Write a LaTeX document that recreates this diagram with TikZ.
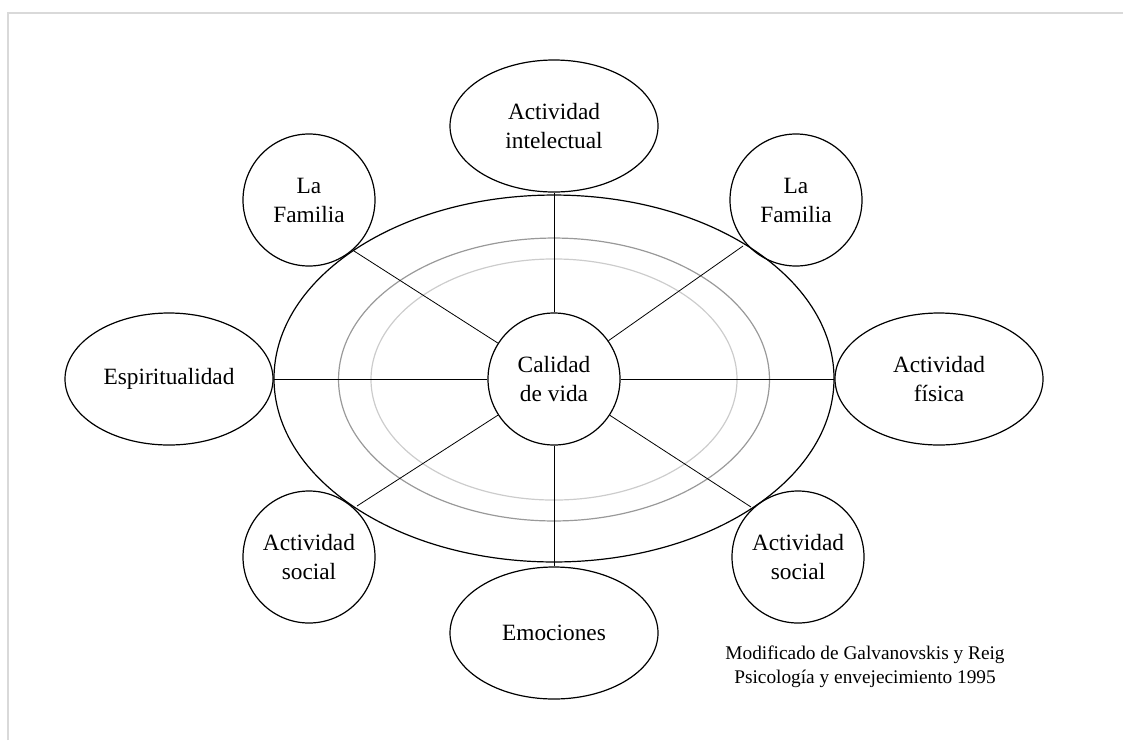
\documentclass[tikz,border=0pt]{standalone}
\usepackage{fontspec}
\setmainfont{Liberation Serif}
\usetikzlibrary{shapes.geometric}
\begin{document}
\begin{tikzpicture}[x=0.75pt,y=-0.75pt,
  lbl/.style={font=\fontsize{17.5}{21.75}\selectfont, align=center, inner sep=0pt},
  circ/.style={lbl, circle, draw, line width=0.9pt, minimum size=99pt},
  ell/.style={lbl, ellipse, draw, line width=0.9pt, minimum width=156pt, minimum height=99pt},
  spoke/.style={line width=0.6pt},
  ring/.style={line width=0.9pt}]
\useasboundingbox (0,0) rectangle (1123,740);
\draw[black!15, line width=1pt] (8,740) -- (8,13) -- (1123,13);
% rings
\draw[ring] (554,378.5) ellipse [x radius=210pt, y radius=137.6pt];
\draw[ring, black!40] (554,379.5) ellipse [x radius=161.6pt, y radius=106.1pt];
\draw[ring, black!20] (554,379.5) ellipse [x radius=137.25pt, y radius=90.4pt];
% nodes
\node[circ, fill=white] (c) at (554,379) {Calidad\\de vida};
\node[ell] (int) at (554,126) {Actividad\\intelectual};
\node[circ] (fam1) at (309,200) {La\\Familia};
\node[circ] (fam2) at (796,200) {La\\Familia};
\node[ell] (esp) at (169,379) {Espiritualidad};
\node[ell] (fis) at (939,379) {Actividad\\física};
\node[circ] (soc1) at (309,557) {Actividad\\social};
\node[circ] (soc2) at (798,557) {Actividad\\social};
\node[ell] (emo) at (554,633) {Emociones};
% touch points on outer ring
\coordinate (p1) at (354,251);
\coordinate (p2) at (743,246);
\coordinate (p3) at (357,506);
\coordinate (p4) at (751,507);
% spokes
\draw[spoke] (c) -- (int);
\draw[spoke] (c) -- (emo);
\draw[spoke] (esp) -- (c);
\draw[spoke] (c) -- (fis);
\draw[spoke] (c) -- (p1);
\draw[spoke] (c) -- (p2);
\draw[spoke] (c) -- (p3);
\draw[spoke] (c) -- (p4);
% caption
\node[font=\fontsize{14.5}{18}\selectfont, align=center, inner sep=0pt] (cap) at (865,667)
  {Modificado de Galvanovskis y Reig\\Psicología y envejecimiento 1995};
\end{tikzpicture}
\end{document}
